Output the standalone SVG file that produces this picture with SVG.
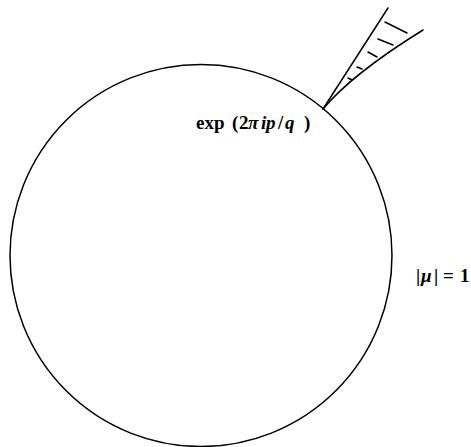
<svg xmlns="http://www.w3.org/2000/svg" width="471" height="447" viewBox="0 0 471 447">
<style>
.ln{fill:none;stroke:#000;stroke-width:1.5;stroke-linecap:round}
.t{font-family:"Liberation Serif","Times New Roman",serif;font-size:19px;font-weight:bold;fill:#000}
.it{font-style:italic}
</style>
<rect width="471" height="447" fill="#fff"/>
<g id="circle">
<circle class="ln" cx="201" cy="255.5" r="191"/>
</g>
<g id="wedge">
<path class="ln" d="M323,109 L388,8"/>
<path class="ln" d="M323,109 Q352,74 423,30"/>
<path class="ln" d="M385,22 L407,33 M378,39 L393,45 M368,52 L377,57 M357,67 L362,69 M348,78 L352,80"/>
</g>
<g id="label-exp">
<text class="t" y="129"><tspan x="196">exp</tspan><tspan x="232">(</tspan><tspan x="239">2</tspan><tspan class="it" x="248">π</tspan><tspan class="it" x="261">i</tspan><tspan class="it" x="266">p</tspan><tspan x="278">/</tspan><tspan class="it" x="285">q</tspan><tspan x="304">)</tspan></text>
</g>
<g id="label-mu">
<text class="t" y="282"><tspan x="416">|</tspan><tspan class="it" x="421">μ</tspan><tspan x="434">|</tspan><tspan x="443">=</tspan><tspan x="460">1</tspan></text>
</g>
</svg>
